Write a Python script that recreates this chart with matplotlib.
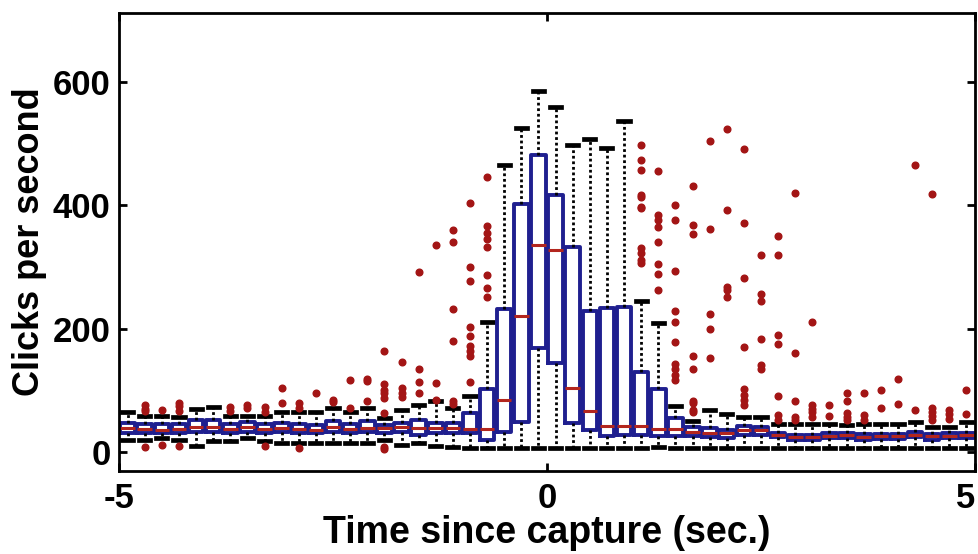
import numpy as np
import matplotlib
matplotlib.use("Agg")
import matplotlib.pyplot as plt

# time bins (sec. since capture), box centres
positions = [-4.9, -4.7, -4.5, -4.3, -4.1, -3.9, -3.7, -3.5, -3.3, -3.1,
             -2.9, -2.7, -2.5, -2.3, -2.1, -1.9, -1.7, -1.5, -1.3, -1.1,
             -0.9, -0.7, -0.5, -0.3, -0.1, 0.1, 0.3, 0.5, 0.7, 0.9,
             1.1, 1.3, 1.5, 1.7, 1.9, 2.1, 2.3, 2.5, 2.7, 2.9,
             3.1, 3.3, 3.5, 3.7, 3.9, 4.1, 4.3, 4.5, 4.7, 4.9]

# box statistics, clicks per second
whislo = [19, 19, 22, 19, 9, 17, 18, 22, 18, 14,
          14, 14, 14, 14, 14, 20, 12, 14, 10, 8,
          6, 6, 6, 6, 6, 6, 6, 6, 6, 6,
          6, 8, 7, 7, 7, 7, 7, 7, 7, 7,
          7, 7, 7, 7, 7, 7, 7, 7, 7, 7]
q1 = [31, 31, 30, 31, 33, 33, 31, 33, 31, 32,
      31, 30, 33, 31, 32, 31, 33, 27, 31, 31,
      30, 19, 33, 48, 168, 144, 47, 36, 26, 27,
      27, 25, 25, 25, 24, 22, 28, 28, 24, 19,
      20, 22, 22, 19, 21, 21, 24, 20, 22, 22]
med = [39, 37, 36, 37, 41, 41, 37, 40, 37, 39,
       37, 36, 41, 37, 39, 38, 41, 38, 38, 38,
       37, 37, 84, 221, 336, 328, 104, 66, 42, 42,
       42, 37, 37, 33, 31, 30, 35, 35, 28, 24,
       24, 26, 27, 24, 25, 25, 28, 25, 26, 27]
q3 = [47, 46, 45, 46, 52, 52, 45, 48, 45, 47,
      46, 44, 50, 46, 50, 44, 47, 52, 47, 47,
      63, 102, 232, 402, 482, 417, 333, 228, 234, 235,
      130, 102, 55, 40, 38, 36, 42, 41, 30, 27,
      28, 30, 31, 29, 29, 29, 32, 29, 30, 31]
whishi = [65, 58, 58, 57, 69, 73, 58, 58, 58, 65,
          65, 65, 72, 65, 72, 55, 68, 76, 82, 71,
          90, 210, 465, 526, 586, 560, 498, 507, 493, 537,
          244, 209, 75, 50, 68, 62, 57, 57, 46, 46,
          46, 45, 44, 46, 46, 46, 48, 40, 41, 48]
outliers = [
    [], [76, 70, 67, 8], [68, 11], [80, 74, 67, 9], [], [], [73, 67], [76, 71],
    [73, 65, 9], [103, 79],
    [79, 72, 6], [96], [84, 81], [117, 72], [119, 115, 83],
    [164, 110, 100, 95, 87, 63, 8, 5], [146, 104, 95, 89], [292, 135, 114, 95],
    [335, 112, 85], [360, 341, 232, 180, 82, 78],
    [403, 300, 277, 203, 188, 171, 163, 155, 114],
    [446, 367, 355, 345, 332, 287, 266, 252],
    [], [], [], [], [], [], [], [],
    [498, 473, 458, 417, 414, 398, 396, 331, 323, 311, 307],
    [456, 384, 377, 365, 341, 305, 289, 262],
    [400, 377, 293, 228, 211, 178, 143, 134, 125, 117],
    [431, 368, 353, 155, 134, 83, 79, 68, 64],
    [504, 361, 224, 200, 153],
    [524, 393, 268, 263, 252],
    [491, 371, 282, 170, 102, 93, 85, 76],
    [319, 256, 245, 183, 141, 134],
    [350, 319, 190, 175, 90, 60, 52],
    [420, 160, 82, 57, 52],
    [210, 76, 70, 64, 57], [76, 58], [96, 82, 63, 57, 51], [95, 60, 52],
    [101, 71], [118, 78], [465, 68], [418, 71, 65, 59, 52], [68, 61, 53],
    [101, 62],
]

xticks = [-5, 0, 5]
yticks = [0, 200, 400, 600]

box_col = "#1f1f8f"
med_col = "#b3261e"
dot_col = "#a31515"

stats = []
for i in range(len(positions)):
    stats.append({"whislo": whislo[i], "q1": q1[i], "med": med[i],
                  "q3": q3[i], "whishi": whishi[i], "fliers": outliers[i]})

fig = plt.figure(figsize=(9.79, 5.54), dpi=100)
ax = fig.add_axes([0.1216, 0.1498, 0.8743, 0.8267])

ax.bxp(stats, positions=positions, widths=0.17, capwidths=0.13,
       showfliers=True, manage_ticks=False,
       boxprops=dict(color=box_col, linewidth=2.8),
       whiskerprops=dict(color="black", linestyle=(0, (1, 1)), linewidth=2.0),
       capprops=dict(color="black", linewidth=3.4),
       medianprops=dict(color=med_col, linewidth=2.2),
       flierprops=dict(marker="o", markersize=4.8, markerfacecolor=dot_col,
                       markeredgecolor=dot_col, linestyle="none"))

ax.set_xlim(-5, 5)
ax.set_ylim(-31, 712)
ax.set_xticks(xticks)
ax.set_yticks(yticks)
ax.set_xticklabels([str(v) for v in xticks])

font = dict(family="Liberation Sans", weight="bold")
for lab in ax.get_xticklabels() + ax.get_yticklabels():
    lab.set_fontfamily("Liberation Sans")
    lab.set_fontweight("bold")
    lab.set_fontsize(25)
# last x label sits flush with the right edge, as in the original
ax.get_xticklabels()[-1].set_horizontalalignment("right")

ax.tick_params(direction="in", length=6, width=2, top=True, right=True)
ax.tick_params(axis="x", pad=8)
ax.tick_params(axis="y", pad=6)
for sp in ax.spines.values():
    sp.set_linewidth(2)

ax.set_xlabel("Time since capture (sec.)", fontsize=27, labelpad=0, **font)
ax.set_ylabel("Clicks per second", fontsize=26, labelpad=4, **font)

fig.savefig("out.png", dpi=100)
